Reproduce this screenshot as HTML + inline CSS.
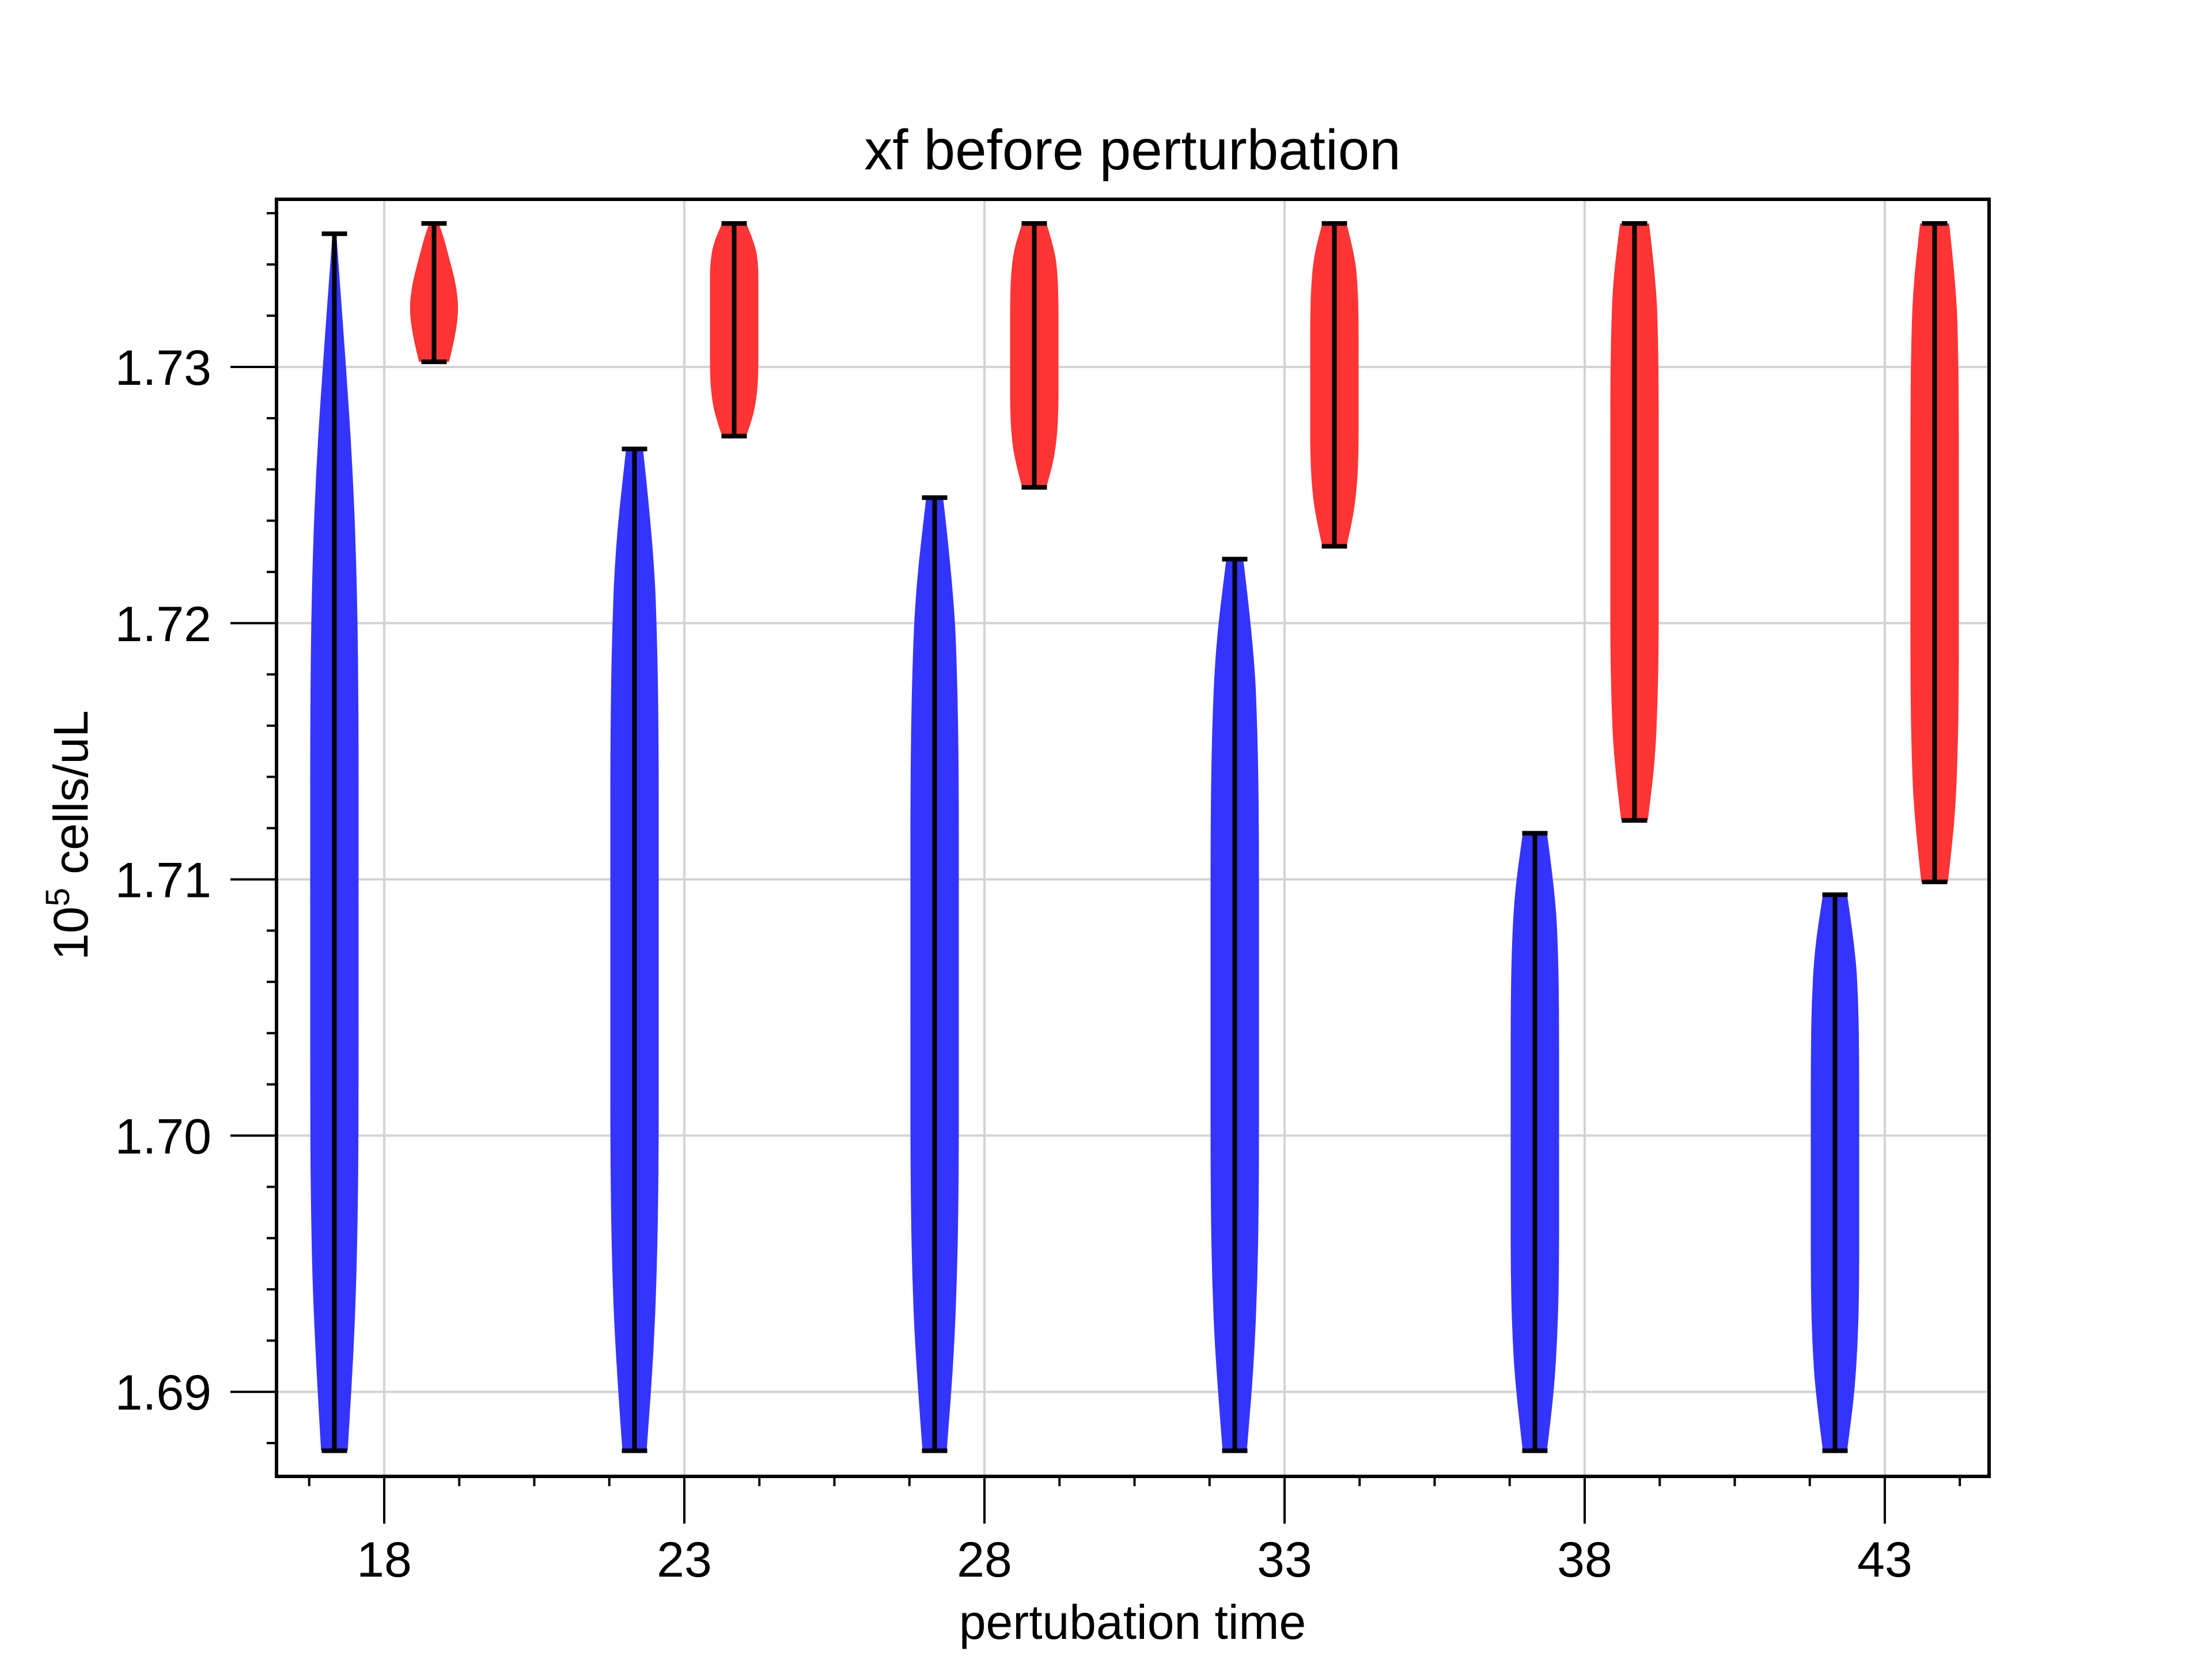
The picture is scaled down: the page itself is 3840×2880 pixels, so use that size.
<!DOCTYPE html>
<html><head><meta charset="utf-8"><style>
html,body{margin:0;padding:0;background:#fff}
svg{display:block}
text{font-family:"Liberation Sans",Arial,sans-serif;fill:#000}
</style></head><body>
<svg id="chart" width="3840" height="2880" viewBox="0 0 3840 2880" xmlns="http://www.w3.org/2000/svg">
<rect x="0" y="0" width="3840" height="2880" fill="#fff"/>
<g id="grid"></g>
<g id="violins"></g>
<g id="axes"></g>
<text x="1966" y="294" font-size="98" text-anchor="middle">xf before perturbation</text>
<text x="1966" y="2845" font-size="84" text-anchor="middle">pertubation time</text>
<text transform="translate(152,1450) rotate(-90)" font-size="84" text-anchor="middle">10<tspan font-size="58" dy="-32">5</tspan><tspan dy="32"> cells/uL</tspan></text>
</svg>
<script>
const xTicks = [18, 23, 28, 33, 38, 43];
const yTicks = [1.69, 1.70, 1.71, 1.72, 1.73];
const yTickLabels = ["1.69", "1.70", "1.71", "1.72", "1.73"];
const blueTimes = [17.17, 22.17, 27.17, 32.17, 37.17, 42.17];
const blueMin = [1.6877, 1.6877, 1.6877, 1.6877, 1.6877, 1.6877];
const blueMax = [1.7352, 1.7268, 1.7249, 1.7225, 1.7118, 1.7094];
const redTimes = [18.83, 23.83, 28.83, 33.83, 38.83, 43.83];
const redMin = [1.7302, 1.7273, 1.7253, 1.7230, 1.7123, 1.7099];
const redMax = [1.7356, 1.7356, 1.7356, 1.7356, 1.7356, 1.7356];
const blueProfiles = [
 [0.08,0.45,0.78,0.95,1,1,1,1,0.98,0.85,0.55],
 [0.35,0.8,0.95,1,1,1,1,1,0.95,0.8,0.5],
 [0.35,0.8,0.95,1,1,1,1,1,0.95,0.8,0.5],
 [0.35,0.8,0.95,1,1,1,1,1,0.95,0.8,0.5],
 [0.5,0.85,0.97,1,1,1,1,1,0.95,0.8,0.5],
 [0.5,0.85,0.97,1,1,1,1,1,0.95,0.8,0.5]
];
const redProfiles = [
 [0.2,0.4,0.55,0.7,0.85,0.95,1,0.97,0.88,0.76,0.62],
 [0.5,0.88,1,1,1,1,1,1,0.95,0.8,0.5],
 [0.5,0.85,0.97,1,1,1,1,1,0.95,0.8,0.5],
 [0.5,0.85,0.97,1,1,1,1,1,0.95,0.8,0.5],
 [0.6,0.9,0.98,1,1,1,1,1,0.96,0.85,0.55],
 [0.6,0.9,0.98,1,1,1,1,1,0.96,0.85,0.55]
];

const AX = {l:480, r:3453, t:346, b:2563};
function xs(v){ return 667 + (v - 18) * 104.2; }
function ys(v){ return 637 + (1.73 - v) * 44480; }
const NS = "http://www.w3.org/2000/svg";
function mk(tag, attrs, parent){
  const e = document.createElementNS(NS, tag);
  for (const k in attrs) e.setAttribute(k, attrs[k]);
  parent.appendChild(e);
  return e;
}
const grid = document.getElementById('grid');
const vg = document.getElementById('violins');
const ax = document.getElementById('axes');

xTicks.forEach(t => {
  const g = mk('line', {x1:xs(t), x2:xs(t), y1:AX.t, y2:AX.b, stroke:'#d3d3d3', 'stroke-width':4}, grid);
  
  
});
yTicks.forEach(t => {
  const g = mk('line', {x1:AX.l, x2:AX.r, y1:ys(t), y2:ys(t), stroke:'#d3d3d3', 'stroke-width':4}, grid);
  
  
});

const HALF = 42;
function smoothSide(pts){
  // quadratic smoothing through midpoints
  let d = ' L' + pts[0][0] + ',' + pts[0][1];
  for (let i = 1; i < pts.length - 1; i++) {
    const mx = (pts[i][0] + pts[i+1][0]) / 2, my = (pts[i][1] + pts[i+1][1]) / 2;
    d += ' Q' + pts[i][0] + ',' + pts[i][1] + ' ' + mx + ',' + my;
  }
  const last = pts[pts.length-1];
  d += ' L' + last[0] + ',' + last[1];
  return d;
}
function violin(t, mn, mx, prof, color, name){
  const cx = xs(t), yt = ys(mx), yb = ys(mn);
  const n = prof.length;
  const right = [], left = [];
  for (let i = 0; i < n; i++) {
    const y = yt + (yb-yt)*i/(n-1);
    right.push([cx + prof[i]*HALF, y]);
    left.push([cx - prof[i]*HALF, y]);
  }
  left.reverse();
  let d = 'M' + cx + ',' + yt + smoothSide(right) + ' L' + cx + ',' + yb + smoothSide(left) + ' Z';
  const g = mk('g', {}, vg);
  
  
  const body = mk('path', {d:d, fill:color}, g);
  
  
  const ln = mk('line', {x1:cx, x2:cx, y1:yt, y2:yb, stroke:'#000', 'stroke-width':8}, g);
  
  
  const c1 = mk('line', {x1:cx-22, x2:cx+22, y1:yt, y2:yt, stroke:'#000', 'stroke-width':8}, g);
  
  
  const c2 = mk('line', {x1:cx-22, x2:cx+22, y1:yb, y2:yb, stroke:'#000', 'stroke-width':8}, g);
  
  
}
blueTimes.forEach((t,i) => violin(t, blueMin[i], blueMax[i], blueProfiles[i], '#3434ff', 'blue-violin-' + (i+1)));
redTimes.forEach((t,i) => violin(t, redMin[i], redMax[i], redProfiles[i], '#ff3434', 'red-violin-' + (i+1)));

const frame = mk('rect', {x:AX.l, y:AX.t, width:AX.r-AX.l, height:AX.b-AX.t, fill:'none', stroke:'#000', 'stroke-width':6}, ax);



xTicks.forEach(t => {
  const tk = mk('line', {x1:xs(t), x2:xs(t), y1:AX.b, y2:AX.b+82, stroke:'#000', 'stroke-width':4}, ax);
  
  
  const lb = mk('text', {x:xs(t), y:2737, 'font-size':86, 'text-anchor':'middle'}, ax);
  lb.textContent = String(t);
  
  
});
for (let k = -1; k < 25; k++) {
  if (k % 4 === 0) continue;
  const x = xs(18 + k*1.25);
  if (x <= AX.l || x >= AX.r) continue;
  const m = mk('line', {x1:x, x2:x, y1:AX.b, y2:AX.b+17, stroke:'#000', 'stroke-width':4}, ax);
  
  
}
yTicks.forEach((t,i) => {
  const tk = mk('line', {x1:AX.l-80, x2:AX.l, y1:ys(t), y2:ys(t), stroke:'#000', 'stroke-width':4}, ax);
  
  
  const lb = mk('text', {x:367, y:ys(t)+31, 'font-size':86, 'text-anchor':'end'}, ax);
  lb.textContent = yTickLabels[i];
  
  
});
for (let k = -40; k < 40; k++) {
  if (((k % 5) + 5) % 5 === 0) continue;
  const y = ys(1.73 + k*0.002);
  if (y <= AX.t || y >= AX.b) continue;
  const m = mk('line', {x1:AX.l-17, x2:AX.l, y1:y, y2:y, stroke:'#000', 'stroke-width':4}, ax);
  
  
}
</script>
</body></html>
